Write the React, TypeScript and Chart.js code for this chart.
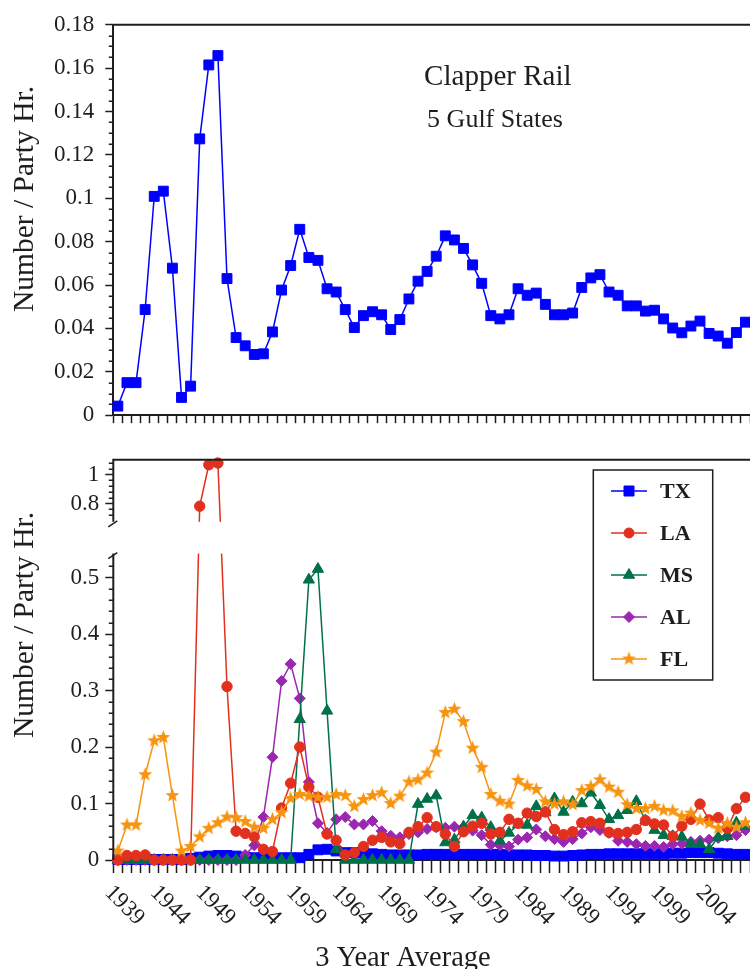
import React, { useEffect, useRef } from 'react';
import { Chart, registerables, LinearScale } from 'chart.js';

Chart.register(...registerables);

// ---------------- data ----------------
const YEARS = [
  1939, 1940, 1941, 1942, 1943, 1944, 1945, 1946, 1947, 1948,
  1949, 1950, 1951, 1952, 1953, 1954, 1955, 1956, 1957, 1958,
  1959, 1960, 1961, 1962, 1963, 1964, 1965, 1966, 1967, 1968,
  1969, 1970, 1971, 1972, 1973, 1974, 1975, 1976, 1977, 1978,
  1979, 1980, 1981, 1982, 1983, 1984, 1985, 1986, 1987, 1988,
  1989, 1990, 1991, 1992, 1993, 1994, 1995, 1996, 1997, 1998,
  1999, 2000, 2001, 2002, 2003, 2004, 2005, 2006, 2007, 2008,
];

// Clapper Rail, 5 Gulf States combined (Number / Party Hr.)
const GULF_TOTAL = [
  0.0042, 0.0150, 0.0150, 0.0487, 0.1009, 0.1033, 0.0678, 0.0082, 0.0134, 0.1274,
  0.1615, 0.1658, 0.0630, 0.0358, 0.0320, 0.0280, 0.0283, 0.0384, 0.0577, 0.0690,
  0.0857, 0.0727, 0.0714, 0.0583, 0.0568, 0.0487, 0.0404, 0.0459, 0.0477, 0.0463,
  0.0395, 0.0441, 0.0536, 0.0618, 0.0663, 0.0733, 0.0827, 0.0808, 0.0769, 0.0693,
  0.0608, 0.0459, 0.0444, 0.0463, 0.0583, 0.0553, 0.0563, 0.0511, 0.0463, 0.0463,
  0.0471, 0.0589, 0.0633, 0.0648, 0.0568, 0.0553, 0.0504, 0.0504, 0.0480, 0.0484,
  0.0444, 0.0402, 0.0380, 0.0411, 0.0434, 0.0377, 0.0365, 0.0332, 0.0381, 0.0429,
];

const TX = [
  0.001, 0.001, 0.001, 0.001, 0.001, 0.001, 0.001, 0.001, 0.003, 0.005,
  0.007, 0.008, 0.008, 0.007, 0.005, 0.004, 0.004, 0.004, 0.004, 0.004,
  0.004, 0.010, 0.018, 0.019, 0.016, 0.013, 0.013, 0.012, 0.011, 0.010,
  0.009, 0.009, 0.009, 0.009, 0.010, 0.010, 0.010, 0.010, 0.010, 0.010,
  0.010, 0.010, 0.010, 0.009, 0.009, 0.009, 0.008, 0.008, 0.007, 0.007,
  0.008, 0.009, 0.010, 0.010, 0.011, 0.011, 0.011, 0.011, 0.011, 0.011,
  0.011, 0.012, 0.012, 0.013, 0.013, 0.013, 0.012, 0.011, 0.010, 0.010,
];

const LA = [
  0.000, 0.008, 0.008, 0.009, 0.000, 0.000, 0.000, 0.000, 0.000, 0.782,
  1.069, 1.081, 0.307, 0.051, 0.047, 0.041, 0.019, 0.015, 0.092, 0.136,
  0.200, 0.129, 0.111, 0.046, 0.035, 0.009, 0.013, 0.024, 0.035, 0.040,
  0.032, 0.029, 0.049, 0.059, 0.075, 0.059, 0.046, 0.024, 0.050, 0.060,
  0.065, 0.046, 0.049, 0.072, 0.065, 0.083, 0.077, 0.085, 0.054, 0.045,
  0.050, 0.066, 0.068, 0.065, 0.049, 0.047, 0.049, 0.054, 0.070, 0.064,
  0.062, 0.042, 0.060, 0.072, 0.099, 0.071, 0.075, 0.056, 0.091, 0.111,
];

const MS = [
  0, 0, 0, 0, 0, 0, 0, 0, 0, 0,
  0, 0, 0, 0, 0, 0, 0, 0, 0, 0,
  0.249, 0.496, 0.515, 0.264, 0.019, 0, 0, 0, 0, 0,
  0, 0, 0, 0.099, 0.108, 0.114, 0.031, 0.036, 0.059, 0.079,
  0.075, 0.058, 0.034, 0.048, 0.063, 0.062, 0.095, 0.084, 0.109, 0.085,
  0.103, 0.100, 0.119, 0.097, 0.072, 0.079, 0.088, 0.104, 0.070, 0.053,
  0.044, 0.042, 0.041, 0.029, 0.028, 0.019, 0.040, 0.042, 0.066, 0.060,
];

const AL = [
  0, 0, 0, 0, 0, 0, 0, 0, 0, 0,
  0, 0, 0, 0, 0.009, 0.026, 0.076, 0.182, 0.317, 0.347,
  0.286, 0.138, 0.065, 0.048, 0.072, 0.076, 0.063, 0.063, 0.069, 0.051,
  0.043, 0.040, 0.046, 0.049, 0.055, 0.058, 0.057, 0.059, 0.058, 0.052,
  0.044, 0.027, 0.026, 0.024, 0.036, 0.040, 0.054, 0.042, 0.037, 0.032,
  0.037, 0.047, 0.058, 0.053, 0.048, 0.034, 0.032, 0.028, 0.025, 0.025,
  0.023, 0.028, 0.029, 0.032, 0.034, 0.036, 0.039, 0.042, 0.044, 0.053,
];

const FL = [
  0.016, 0.062, 0.062, 0.151, 0.211, 0.217, 0.114, 0.016, 0.024, 0.041,
  0.056, 0.066, 0.076, 0.075, 0.068, 0.058, 0.056, 0.072, 0.084, 0.109,
  0.116, 0.113, 0.111, 0.111, 0.116, 0.114, 0.095, 0.107, 0.114, 0.119,
  0.100, 0.113, 0.138, 0.142, 0.154, 0.191, 0.261, 0.267, 0.245, 0.198,
  0.164, 0.116, 0.104, 0.099, 0.141, 0.131, 0.125, 0.103, 0.099, 0.103,
  0.098, 0.123, 0.130, 0.142, 0.129, 0.120, 0.098, 0.091, 0.091, 0.095,
  0.088, 0.087, 0.077, 0.083, 0.070, 0.065, 0.056, 0.065, 0.058, 0.066,
];

const X_TICK_LABELS = ['1939', '1944', '1949', '1954', '1959', '1964', '1969', '1974', '1979', '1984', '1989', '1994', '1999', '2004'];
const TOP_Y_TICKS = [0, 0.02, 0.04, 0.06, 0.08, 0.1, 0.12, 0.14, 0.16, 0.18];
const TOP_Y_LABELS = ['0', '0.02', '0.04', '0.06', '0.08', '0.1', '0.12', '0.14', '0.16', '0.18'];
const TOP_Y_MINOR = [0.005, 0.01, 0.015, 0.025, 0.03, 0.035, 0.045, 0.05, 0.055, 0.065, 0.07, 0.075, 0.085, 0.09, 0.095, 0.105, 0.11, 0.115, 0.125, 0.13, 0.135, 0.145, 0.15, 0.155, 0.165, 0.17, 0.175];
const BOT_Y_TICKS = [0, 0.1, 0.2, 0.3, 0.4, 0.5, 0.8, 1];
const BOT_Y_LABELS = ['0', '0.1', '0.2', '0.3', '0.4', '0.5', '0.8', '1'];
const BOT_Y_MINOR = [0.02, 0.04, 0.06, 0.08, 0.12, 0.14, 0.16, 0.18, 0.22, 0.24, 0.26, 0.28, 0.32, 0.34, 0.36, 0.38, 0.42, 0.44, 0.46, 0.48, 0.52, 0.72, 0.76, 0.84, 0.88, 0.92, 0.96, 1.04, 1.08];
const LEGEND_LABELS = ['TX', 'LA', 'MS', 'AL', 'FL'];

const Y_TITLE = 'Number / Party Hr.';
const X_TITLE = '3 Year Average';
const PANEL_TITLE = 'Clapper Rail';
const PANEL_SUBTITLE = '5 Gulf States';

// ---------------- styles / layout ----------------
const INK = '#1e1e1e';
const SERIF = '"Liberation Serif", "Times New Roman", Times, serif';
const C_TX = '#0000ff';
const C_LA = '#e2301e';
const C_MS = '#00704a';
const C_AL = '#9b27b0';
const C_FL = '#f7930f';

const PAGE_W = 750;
const PAGE_H = 969;
const CANVAS_W = 822;
const PLOT_LEFT = 113.3;
const YEAR_PX = 9.2;
const X_MIN = 1938.5;
const X_MAX = X_MIN + (CANVAS_W - PLOT_LEFT) / YEAR_PX;

const TOP_H = 440;
const TOP_PLOT_TOP = 20;
const TOP_PLOT_BOTTOM = 422.7;

const BOT_OFFSET = 440;
const BOT_H = 529;
const BOT_PLOT_TOP = 17.7;
const BOT_PLOT_BOTTOM = 420;

// broken y-axis segments of the lower panel
const SEG_LOW_MAX = 0.5423;
const SEG_UP_MIN = 0.6738;
const SEG_UP_MAX = 1.1034;
const SEG_LOW_FRAC = 0.7656;
const SEG_UP_FRAC = 0.1549;

const X_TICK_POSITIONS: number[] = [];
for (let v = X_MIN; v <= X_MAX + 1e-6; v += 1) X_TICK_POSITIONS.push(v);

class BrokenLinearScale extends LinearScale {
  static id = 'brokenLinear';
  static defaults = LinearScale.defaults;
  segPixels() {
    const h = (this as any).bottom - (this as any).top;
    return {
      lowTop: (this as any).bottom - h * SEG_LOW_FRAC,
      upBottom: (this as any).top + h * SEG_UP_FRAC,
    };
  }
  getPixelForValue(value: number) {
    const top = (this as any).top;
    const bottom = (this as any).bottom;
    const { lowTop, upBottom } = this.segPixels();
    if (value <= SEG_LOW_MAX) return bottom - (value / SEG_LOW_MAX) * (bottom - lowTop);
    if (value >= SEG_UP_MIN) return upBottom - ((value - SEG_UP_MIN) / (SEG_UP_MAX - SEG_UP_MIN)) * (upBottom - top);
    return lowTop - ((value - SEG_LOW_MAX) / (SEG_UP_MIN - SEG_LOW_MAX)) * (lowTop - upBottom);
  }
  getValueForPixel(pixel: number) {
    const top = (this as any).top;
    const bottom = (this as any).bottom;
    const { lowTop, upBottom } = this.segPixels();
    if (pixel >= lowTop) return ((bottom - pixel) / (bottom - lowTop)) * SEG_LOW_MAX;
    if (pixel <= upBottom) return SEG_UP_MIN + ((upBottom - pixel) / (upBottom - top)) * (SEG_UP_MAX - SEG_UP_MIN);
    return SEG_LOW_MAX + ((lowTop - pixel) / (lowTop - upBottom)) * (SEG_UP_MIN - SEG_LOW_MAX);
  }
}
Chart.register(BrokenLinearScale as any);

function makeStar(color: string, R: number, r: number) {
  const size = Math.ceil(R * 2 + 2);
  const c = document.createElement('canvas');
  c.width = size;
  c.height = size;
  const g = c.getContext('2d')!;
  g.translate(size / 2, size / 2);
  g.beginPath();
  for (let i = 0; i < 10; i++) {
    const rad = i % 2 === 0 ? R : r;
    const a = -Math.PI / 2 + (i * Math.PI) / 5;
    g.lineTo(rad * Math.cos(a), rad * Math.sin(a));
  }
  g.closePath();
  g.fillStyle = color;
  g.fill();
  return c;
}

function series(label: string, values: number[], color: string, pointStyle: any, radius: number, order: number) {
  return {
    label,
    data: YEARS.map((x, i) => ({ x, y: values[i] })),
    borderColor: color,
    backgroundColor: color,
    pointBackgroundColor: color,
    pointBorderColor: color,
    pointBorderWidth: 1,
    pointStyle,
    pointRadius: radius,
    borderWidth: 1.5,
    tension: 0,
    order,
    clip: false as any,
  };
}

function xAxis(tickLength: number, axisHeight: number) {
  return {
    type: 'linear',
    min: X_MIN,
    max: X_MAX,
    afterBuildTicks: (s: any) => {
      s.ticks = X_TICK_POSITIONS.map((v) => ({ value: v }));
    },
    afterFit: (s: any) => {
      s.height = axisHeight;
    },
    ticks: { display: false, autoSkip: false },
    grid: { display: true, drawOnChartArea: false, drawTicks: true, tickLength, tickColor: INK, tickWidth: 1.5 },
    border: { display: true, color: INK, width: 2 },
  };
}

function drawMarker(ctx: CanvasRenderingContext2D, kind: string, x: number, y: number, color: string, star: HTMLCanvasElement) {
  ctx.save();
  if (kind === 'star') {
    ctx.drawImage(star, x - star.width / 2, y - star.height / 2);
    ctx.restore();
    return;
  }
  ctx.fillStyle = color;
  ctx.strokeStyle = color;
  ctx.lineWidth = 1;
  ctx.beginPath();
  if (kind === 'rect') ctx.rect(x - 5, y - 5, 10, 10);
  else if (kind === 'circle') ctx.arc(x, y, 5, 0, Math.PI * 2);
  else if (kind === 'triangle') {
    const r = 6.5;
    ctx.moveTo(x, y - r);
    ctx.lineTo(x + r * 0.866, y + r * 0.5);
    ctx.lineTo(x - r * 0.866, y + r * 0.5);
  } else if (kind === 'rectRot') {
    const r = 5.5;
    ctx.moveTo(x - r, y);
    ctx.lineTo(x, y - r);
    ctx.lineTo(x + r, y);
    ctx.lineTo(x, y + r);
  }
  ctx.closePath();
  ctx.fill();
  ctx.stroke();
  ctx.restore();
}

function drawYTitle(ctx: CanvasRenderingContext2D, x: number, y: number) {
  ctx.save();
  ctx.translate(x, y);
  ctx.rotate(-Math.PI / 2);
  ctx.font = `29.5px ${SERIF}`;
  ctx.fillStyle = INK;
  ctx.textAlign = 'center';
  ctx.textBaseline = 'alphabetic';
  ctx.fillText(Y_TITLE, 0, 0);
  ctx.restore();
}

const topDecor = {
  id: 'topDecor',
  afterDraw(chart: any) {
    const { ctx, chartArea, scales } = chart;
    const ys = scales.y;
    ctx.save();
    ctx.strokeStyle = INK;
    ctx.lineWidth = 2;
    ctx.beginPath();
    ctx.moveTo(chartArea.left - 1, chartArea.top);
    ctx.lineTo(chart.width, chartArea.top);
    ctx.stroke();
    ctx.lineWidth = 1.5;
    ctx.beginPath();
    TOP_Y_MINOR.forEach((v) => {
      const p = Math.round(ys.getPixelForValue(v)) + 0.25;
      ctx.moveTo(chartArea.left - 4.5, p);
      ctx.lineTo(chartArea.left, p);
    });
    ctx.stroke();
    ctx.fillStyle = INK;
    ctx.textAlign = 'center';
    ctx.textBaseline = 'alphabetic';
    ctx.font = `29px ${SERIF}`;
    ctx.fillText(PANEL_TITLE, 497.8, 85);
    ctx.font = `26px ${SERIF}`;
    ctx.fillText(PANEL_SUBTITLE, 495, 126.7);
    ctx.restore();
    drawYTitle(ctx, 33, 199);
  },
};

function makeBottomDecor(star: HTMLCanvasElement) {
  const styles = [
    { color: C_TX, kind: 'rect' },
    { color: C_LA, kind: 'circle' },
    { color: C_MS, kind: 'triangle' },
    { color: C_AL, kind: 'rectRot' },
    { color: C_FL, kind: 'star' },
  ];
  return {
    id: 'bottomDecor',
    afterDatasetsDraw(chart: any) {
      const { ctx, chartArea, scales } = chart;
      const ys = scales.y;
      const { lowTop, upBottom } = ys.segPixels();
      const L = chartArea.left;
      ctx.save();
      // gap of the broken axis
      ctx.fillStyle = '#ffffff';
      ctx.fillRect(L + 1, upBottom, chart.width, lowTop - upBottom);
      ctx.strokeStyle = INK;
      ctx.lineWidth = 2;
      ctx.beginPath();
      ctx.moveTo(L, chartArea.top - 1);
      ctx.lineTo(L, upBottom);
      ctx.moveTo(L, lowTop);
      ctx.lineTo(L, chartArea.bottom);
      ctx.moveTo(L - 1, chartArea.top);
      ctx.lineTo(chart.width, chartArea.top);
      ctx.stroke();
      // break marks
      ctx.lineWidth = 1.5;
      ctx.beginPath();
      ctx.moveTo(L - 5, upBottom + 5);
      ctx.lineTo(L + 4, upBottom - 1);
      ctx.moveTo(L - 5, lowTop + 5);
      ctx.lineTo(L + 4, lowTop - 1);
      ctx.stroke();
      // minor ticks
      ctx.beginPath();
      BOT_Y_MINOR.forEach((v) => {
        const p = Math.round(ys.getPixelForValue(v)) + 0.25;
        ctx.moveTo(L - 4.5, p);
        ctx.lineTo(L, p);
      });
      ctx.stroke();
      ctx.restore();
    },
    afterDraw(chart: any) {
      const { ctx, scales } = chart;
      const xs = scales.x;
      ctx.save();
      // legend
      const bx = 593.3, by = 30, bw = 119.4, bh = 210;
      ctx.fillStyle = '#ffffff';
      ctx.fillRect(bx, by, bw, bh);
      ctx.strokeStyle = INK;
      ctx.lineWidth = 1.5;
      ctx.strokeRect(bx, by, bw, bh);
      LEGEND_LABELS.forEach((label, i) => {
        const y = by + 21 + i * 42;
        const st = styles[i];
        ctx.strokeStyle = st.color;
        ctx.lineWidth = 1.5;
        ctx.beginPath();
        ctx.moveTo(611, y);
        ctx.lineTo(647, y);
        ctx.stroke();
        drawMarker(ctx, st.kind, 629, y, st.color, star);
        ctx.fillStyle = INK;
        ctx.font = `bold 22px ${SERIF}`;
        ctx.textAlign = 'left';
        ctx.textBaseline = 'middle';
        ctx.fillText(label, 660, y + 1);
      });
      // rotated x labels
      ctx.fillStyle = INK;
      ctx.font = `23px ${SERIF}`;
      X_TICK_LABELS.forEach((lab) => {
        const px = xs.getPixelForValue(Number(lab));
        ctx.save();
        ctx.translate(px - 1.5, 441);
        ctx.rotate(Math.PI / 4);
        ctx.textAlign = 'left';
        ctx.textBaseline = 'top';
        ctx.fillText(lab, 0, 0);
        ctx.restore();
      });
      ctx.font = `28.5px ${SERIF}`;
      ctx.textAlign = 'center';
      ctx.textBaseline = 'alphabetic';
      ctx.fillText(X_TITLE, 403, 526);
      ctx.restore();
      drawYTitle(ctx, 33, 185);
    },
  };
}

export default function App() {
  const topRef = useRef<HTMLCanvasElement>(null);
  const botRef = useRef<HTMLCanvasElement>(null);

  useEffect(() => {
    const star = makeStar(C_FL, 7.4, 3.1);
    const common = {
      responsive: false,
      animation: false as const,
      devicePixelRatio: 1,
      events: [],
      plugins: { legend: { display: false }, tooltip: { enabled: false } },
    };

    const top = new Chart(topRef.current as HTMLCanvasElement, {
      type: 'line',
      data: {
        datasets: [series('5 Gulf States', GULF_TOTAL, C_TX, 'rect', 7, 1)],
      },
      options: {
        ...common,
        layout: { padding: { top: TOP_PLOT_TOP, left: 0, right: 0, bottom: 0 } },
        scales: {
          x: xAxis(8, TOP_H - TOP_PLOT_BOTTOM) as any,
          y: {
            type: 'linear',
            min: 0,
            max: 0.18,
            afterBuildTicks: (s: any) => {
              s.ticks = TOP_Y_TICKS.map((v) => ({ value: v }));
            },
            afterFit: (s: any) => {
              s.width = PLOT_LEFT;
            },
            ticks: {
              callback: (_v: any, i: number) => TOP_Y_LABELS[i],
              font: { family: SERIF, size: 23 },
              color: INK,
              padding: 11,
            },
            grid: { drawOnChartArea: false, tickLength: 8, tickColor: INK, tickWidth: 1.5 },
            border: { display: true, color: INK, width: 2 },
          } as any,
        },
      } as any,
      plugins: [topDecor],
    });

    const bottom = new Chart(botRef.current as HTMLCanvasElement, {
      type: 'line',
      data: {
        datasets: [
          series('TX', TX, C_TX, 'rect', 7, 5),
          series('LA', LA, C_LA, 'circle', 5.2, 2),
          series('MS', MS, C_MS, 'triangle', 6.5, 3),
          series('AL', AL, C_AL, 'rectRot', 5.5, 4),
          series('FL', FL, C_FL, star, 6, 1),
        ],
      },
      options: {
        ...common,
        layout: { padding: { top: BOT_PLOT_TOP, left: 0, right: 0, bottom: 0 } },
        scales: {
          x: xAxis(13, BOT_H - BOT_PLOT_BOTTOM) as any,
          y: {
            type: 'brokenLinear',
            min: 0,
            max: SEG_UP_MAX,
            afterBuildTicks: (s: any) => {
              s.ticks = BOT_Y_TICKS.map((v) => ({ value: v }));
            },
            afterFit: (s: any) => {
              s.width = PLOT_LEFT;
            },
            ticks: {
              callback: (_v: any, i: number) => BOT_Y_LABELS[i],
              font: { family: SERIF, size: 23 },
              color: INK,
              padding: 6,
            },
            grid: { drawOnChartArea: false, tickLength: 8, tickColor: INK, tickWidth: 1.5 },
            border: { display: false },
          } as any,
        },
      } as any,
      plugins: [makeBottomDecor(star)],
    });

    return () => {
      top.destroy();
      bottom.destroy();
    };
  }, []);

  return (
    <div
      style={{
        position: 'absolute',
        left: 0,
        top: 0,
        width: PAGE_W,
        height: PAGE_H,
        overflow: 'hidden',
        background: '#ffffff',
      }}
    >
      <canvas
        ref={topRef}
        width={CANVAS_W}
        height={TOP_H}
        style={{ position: 'absolute', left: 0, top: 0, width: CANVAS_W, height: TOP_H }}
      />
      <canvas
        ref={botRef}
        width={CANVAS_W}
        height={BOT_H}
        style={{ position: 'absolute', left: 0, top: BOT_OFFSET, width: CANVAS_W, height: BOT_H }}
      />
    </div>
  );
}
